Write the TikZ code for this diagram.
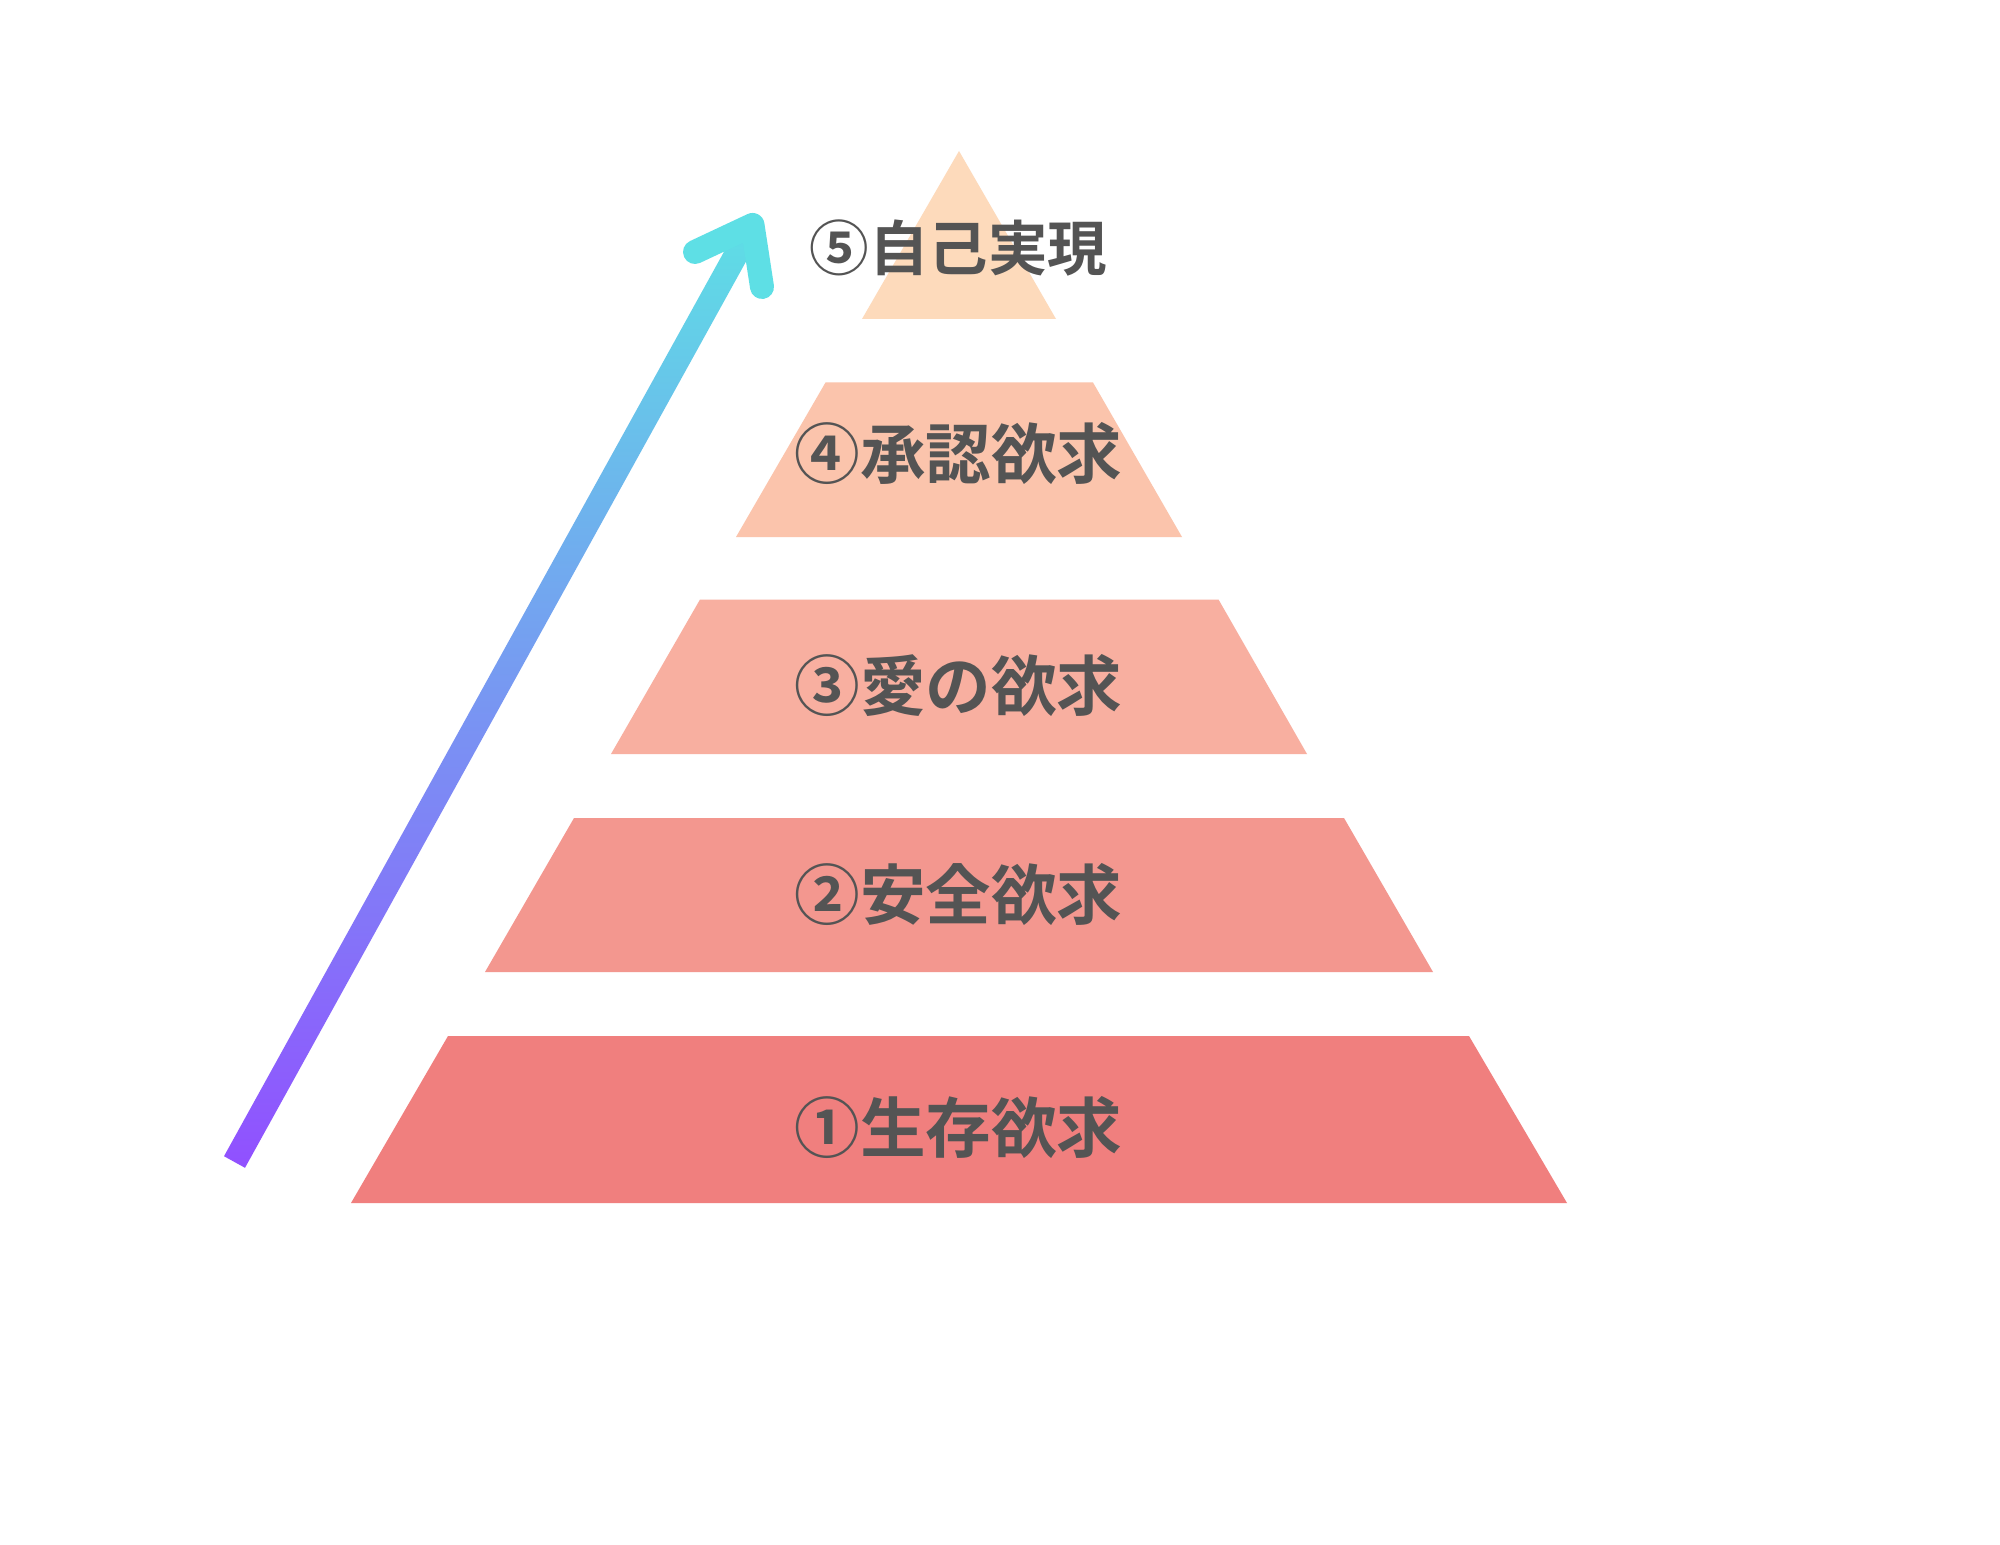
\documentclass[tikz,border=0pt]{standalone}
\usepackage{fontspec}
\newfontfamily\jp{Noto Sans CJK JP}[BoldFont={* Bold}]
\definecolor{tri5}{HTML}{FDDABB}
\definecolor{tr4}{HTML}{FBC4AC}
\definecolor{tr3}{HTML}{F8AFA0}
\definecolor{tr2}{HTML}{F3978F}
\definecolor{tr1}{HTML}{F07F7E}
\definecolor{txt}{HTML}{545454}
\definecolor{arrcyan}{HTML}{5EDFE5}
\definecolor{arrpurp}{HTML}{9150FF}
\begin{document}
\begin{tikzpicture}[x=0.5pt,y=-0.5pt,
  lbl/.style={inner sep=0pt,anchor=center,text=txt,font=\jp\bfseries\fontsize{32.8pt}{36pt}\selectfont},
  lbltop/.style={lbl,font=\jp\bfseries\fontsize{29.75pt}{33pt}\selectfont}]
\fill[white] (0,0) rectangle (2000,1545);
% pyramid
\fill[tri5] (862,319) -- (959,151) -- (1056,319) -- cycle;
\fill[tr4] (825.5,382.5) -- (1093,382.5) -- (1182,537) -- (736,537) -- cycle;
\fill[tr3] (700,599.5) -- (1218.5,599.5) -- (1307,754) -- (611,754) -- cycle;
\fill[tr2] (574,818) -- (1344,818) -- (1433,972) -- (485,972) -- cycle;
\fill[tr1] (448,1036) -- (1469,1036) -- (1567,1203) -- (351,1203) -- cycle;
% labels
\node[lbltop] (l5) at (958.5,248.5) {⑤自己実現};
\node[lbl] (l4) at (958.5,453) {④承認欲求};
\node[lbl] (l3) at (958.5,685) {③愛の欲求};
\node[lbl] (l2) at (958.5,894) {②安全欲求};
\node[lbl] (l1) at (958.5,1127) {①生存欲求};
% arrow
\coordinate (abot) at (234.5,1162);
\coordinate (atip) at (752.5,225);
\coordinate (aleft) at (695,252);
\coordinate (aright) at (762,287);
\shade[bottom color=arrpurp,top color=arrcyan]
  (224,1156.2) -- (245,1167.8) -- (763,230.8) -- (742,219.2) -- cycle;
\draw[arrcyan,line width=12pt,line cap=round,line join=round] (aleft) -- (atip) -- (aright);
\end{tikzpicture}
\end{document}
